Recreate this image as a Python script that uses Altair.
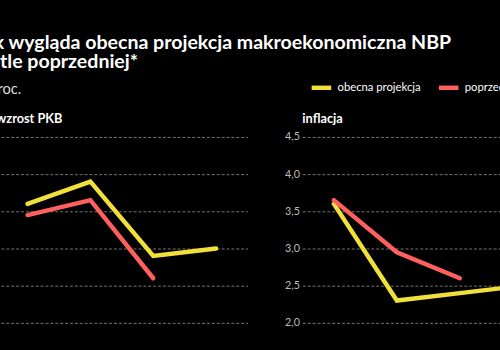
import altair as alt
import pandas as pd

# ---- data ----
years = [2025, 2026, 2027, 2028]
series_names = ["obecna projekcja", "poprzednia projekcja"]
pkb_obecna = [3.6, 3.9, 2.9, 3.0]
pkb_poprzednia = [3.45, 3.65, 2.6]
inflacja_obecna = [3.6, 2.3, 2.4, 2.5]
inflacja_poprzednia = [3.65, 2.95, 2.6]
y_ticks = [2.0, 2.5, 3.0, 3.5, 4.0, 4.5]
panel_titles = ["wzrost PKB", "inflacja"]
title_lines = ["Tak wygląda obecna projekcja makroekonomiczna NBP", "na tle poprzedniej*"]
subtitle_text = "w proc."
colors = ["#f2e03a", "#ff5f5f"]


def long_frame(cur, prev):
    rows = []
    for y, v in zip(years, cur):
        rows.append({"rok": y, "seria": series_names[0], "wartosc": v})
    for y, v in zip(years, prev):
        rows.append({"rok": y, "seria": series_names[1], "wartosc": v})
    return pd.DataFrame(rows)


legend = alt.Legend(
    orient="none", legendX=320, legendY=-63, direction="horizontal", title=None,
    symbolType="stroke", symbolStrokeWidth=4.5, symbolSize=400,
    labelFont="Lato", labelFontSize=11.5, labelColor="white",
    columnPadding=9, labelOffset=4,
)


def panel(df, title, width, xdomain):
    return alt.Chart(
        df,
        title=alt.TitleParams(title, anchor="start", frame="group", font="Lato",
                              fontSize=13, fontWeight="bold", color="white", offset=5),
    ).mark_line(strokeWidth=4.5, strokeCap="round", strokeJoin="miter").encode(
        x=alt.X("rok:Q", scale=alt.Scale(domain=xdomain, nice=False, zero=False), axis=None),
        y=alt.Y(
            "wartosc:Q",
            scale=alt.Scale(domain=[2.0, 4.5], nice=False, zero=False),
            axis=alt.Axis(
                values=y_ticks, title=None, domain=False, ticks=False, grid=True,
                labelExpr="replace(format(datum.value, '.1f'), '.', ',')",
                gridColor="#777777", gridDash=[3, 2], gridWidth=1,
                labelColor="#bbbbbb", labelFont="Lato", labelFontSize=11, labelPadding=3,
            ),
        ),
        color=alt.Color("seria:N", scale=alt.Scale(domain=series_names, range=colors), legend=legend),
    ).properties(width=width, height=190)


left = panel(long_frame(pkb_obecna, pkb_poprzednia), panel_titles[0], 257, [2024.5, 2028.5])
right = panel(long_frame(inflacja_obecna, inflacja_poprzednia), panel_titles[1], 322, [2024.5, 2029.5])

chart = alt.hconcat(
    left, right, spacing=37,
    title=alt.TitleParams(
        title_lines, subtitle=subtitle_text, anchor="start", font="Lato", fontSize=20,
        fontWeight="bold", color="white", lineHeight=20, dx=-4,
        subtitleFont="Lato", subtitleFontSize=15, subtitleColor="#dddddd",
        subtitlePadding=10, offset=-22,
    ),
).resolve_scale(color="shared").properties(
    background="black",
    padding={"left": -27, "right": -120, "top": 30, "bottom": 30},
).configure_view(stroke=None)

chart.save("out.html", embed_options={"renderer": "svg", "actions": False})
